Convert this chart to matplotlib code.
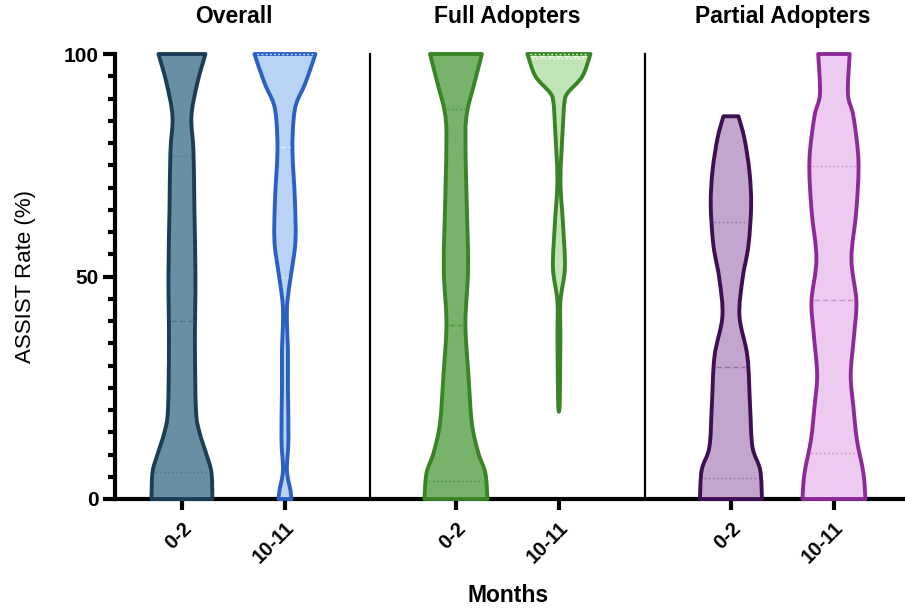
import numpy as np
import matplotlib.pyplot as plt
from matplotlib.path import Path
from matplotlib.patches import PathPatch
from matplotlib.ticker import MultipleLocator

plt.rcParams['font.family'] = ['Liberation Sans', 'DejaVu Sans']

# groups / categories
groups = ['Overall', 'Full Adopters', 'Partial Adopters']
months = ['0-2', '10-11', '0-2', '10-11', '0-2', '10-11']

# violin outlines: y level (ASSIST rate %) and half-width (density, x units)
ov02_y = [0, 6, 10, 15, 20, 35, 50, 65, 78, 86, 93.5, 100]
ov02_w = [0.296, 0.286, 0.238, 0.170, 0.136, 0.126, 0.131, 0.121, 0.112, 0.092, 0.150, 0.228]
ov1011_y = [0, 2, 6.5, 13.5, 24.7, 33.5, 39.5, 44.5, 51, 58, 67, 78, 85, 89, 93.5, 100]
ov1011_w = [0.063, 0.053, 0.019, 0.034, 0.029, 0.029, 0.019, 0.024, 0.063, 0.102, 0.097, 0.073, 0.083, 0.112, 0.199, 0.296]
fa02_y = [0, 5.8, 10.3, 17, 28, 39.5, 52, 69, 82, 87.4, 93.5, 100]
fa02_w = [0.306, 0.286, 0.218, 0.155, 0.121, 0.092, 0.118, 0.102, 0.092, 0.112, 0.180, 0.252]
fa1011_y = [19.6, 22, 35.7, 44.5, 52, 62, 71.7, 84, 89, 91.2, 95, 100]
fa1011_w = [0.0, 0.008, 0.014, 0.015, 0.058, 0.039, 0.015, 0.039, 0.053, 0.083, 0.228, 0.306]
pa02_y = [0, 6.5, 11.7, 20.7, 32, 41, 49.4, 57, 66, 73.5, 81, 86]
pa02_w = [0.301, 0.284, 0.209, 0.186, 0.160, 0.083, 0.112, 0.170, 0.196, 0.180, 0.131, 0.073]
pa1011_y = [0, 5.8, 13.3, 20.7, 28, 37, 44.5, 54, 65, 76, 86, 91, 100]
pa1011_w = [0.306, 0.286, 0.223, 0.189, 0.163, 0.196, 0.218, 0.170, 0.218, 0.238, 0.189, 0.136, 0.153]

# quartiles (Q1, median, Q3)
quart = [[6, 40, 77], [50, 79, 100], [4, 39, 87.6], [99, 99.5, 100], [4.8, 29.7, 62.2], [10.3, 44.7, 74.8]]

profiles = [(ov02_y, ov02_w), (ov1011_y, ov1011_w), (fa02_y, fa02_w),
            (fa1011_y, fa1011_w), (pa02_y, pa02_w), (pa1011_y, pa1011_w)]

fill_colors = ['#6890a2', '#b9d3f4', '#78b36b', '#c2e5b8', '#c3a6cd', '#edcaef']
edge_colors = ['#1c3d58', '#2c60c2', '#3a8326', '#3a8326', '#3e1052', '#8c2a98']
q_colors = ['#4a7c92', '#e2edfb', '#4e9a40', '#f0f8ec', '#9a6fae', '#c98fd0']

positions = [0, 1, 2.66, 3.66, 5.33, 6.33]
separators = [1.83, 4.5]
title_x = [0.5, 3.16, 5.83]


def smooth_side(pts):
    # Catmull-Rom through the read points -> cubic bezier segments
    verts, codes = [], []
    n = len(pts)
    for i in range(n - 1):
        p0 = pts[max(i - 1, 0)]
        p1 = pts[i]
        p2 = pts[i + 1]
        p3 = pts[min(i + 2, n - 1)]
        c1 = p1 + (p2 - p0) / 6.0
        c2 = p2 - (p3 - p1) / 6.0
        verts += [c1, c2, p2]
        codes += [Path.CURVE4] * 3
    return verts, codes


def violin_path(c, ys, ws):
    ys = np.asarray(ys, float)
    ws = np.asarray(ws, float)
    right = np.column_stack([c + ws, ys])
    left = np.column_stack([c - ws, ys])[::-1]
    verts = [right[0]]
    codes = [Path.MOVETO]
    v, k = smooth_side(right)
    verts += v
    codes += k
    verts.append(left[0])
    codes.append(Path.LINETO)
    v, k = smooth_side(left)
    verts += v
    codes += k
    verts.append(right[0])
    codes.append(Path.CLOSEPOLY)
    return Path(verts, codes)


fig = plt.figure(figsize=(9.05, 6.1), dpi=100)
ax = fig.add_axes([115 / 905, 111 / 610, 790 / 905, 445 / 610])

for i, (ys, ws) in enumerate(profiles):
    c = positions[i]
    path = violin_path(c, ys, ws)
    ax.add_patch(PathPatch(path, facecolor=fill_colors[i], edgecolor=edge_colors[i],
                           lw=2.8, joinstyle='round', clip_on=False, zorder=3))
    for j, q in enumerate(quart[i]):
        hw = np.interp(q, ys, ws) - 0.025
        if hw <= 0:
            continue
        ax.plot([c - hw, c + hw], [q, q], color=q_colors[i], lw=1.0,
                ls=(0, (4, 2)) if j == 1 else (0, (1.2, 1.8)), zorder=4, clip_on=False)

for s in separators:
    ax.plot([s, s], [0, 100], color='black', lw=1.6, zorder=2, clip_on=False)

for g, tx in zip(groups, title_x):
    ax.text(tx, 108.5, g, ha='center', va='center', fontsize=16.5, fontweight='bold')

ax.set_xlim(-0.65, -0.65 + 790 / 103)
ax.set_ylim(0, 100)
ax.spines['top'].set_visible(False)
ax.spines['right'].set_visible(False)
ax.spines['left'].set_linewidth(3)
ax.spines['bottom'].set_linewidth(3)
ax.spines['left'].set_bounds(0, 100)

ax.yaxis.set_major_locator(MultipleLocator(50))
ax.yaxis.set_minor_locator(MultipleLocator(5))
ax.tick_params(axis='y', which='major', length=9, width=3, labelsize=15, pad=3)
ax.tick_params(axis='y', which='minor', length=5, width=3)
for lab in ax.get_yticklabels():
    lab.set_fontweight('bold')

ax.set_xticks(positions)
ax.set_xticklabels(months, rotation=45, ha='right', rotation_mode='anchor',
                   fontsize=14.5, fontweight='bold')
ax.tick_params(axis='x', which='major', length=8, width=3, pad=6)

ax.set_ylabel('ASSIST Rate (%)', fontsize=16)
ax.yaxis.set_label_coords(-0.1, 0.5)
fig.text(508 / 905, 1 - 596 / 610, 'Months', ha='center', va='center',
         fontsize=16.5, fontweight='bold')

fig.savefig('out.png', dpi=100)
